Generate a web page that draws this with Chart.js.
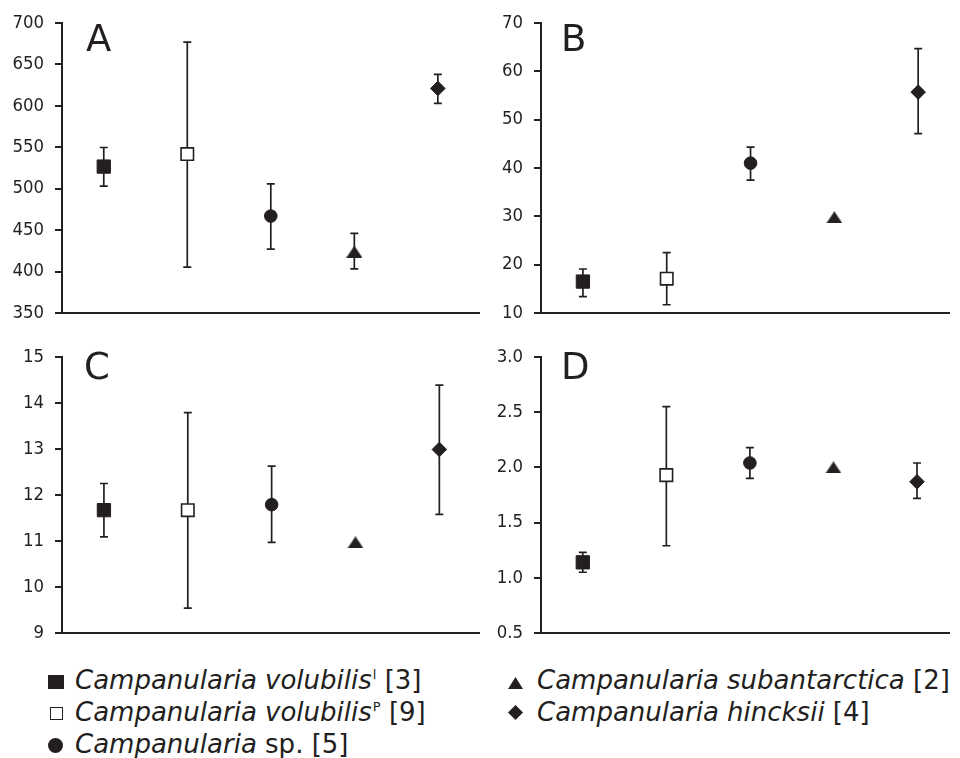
<!DOCTYPE html>
<html><head><meta charset="utf-8">
<script src="https://cdn.jsdelivr.net/npm/chart.js@4"></script>
<style>
html,body{margin:0;padding:0;background:#fff}
body{width:960px;height:758px;overflow:hidden;position:relative;font-family:"DejaVu Sans";color:#231f20}
.cv{position:absolute}
.lbl{position:absolute;font-size:37px;line-height:1}
.leg{position:absolute;font-size:26px;line-height:1;white-space:nowrap}
.leg i{font-style:oblique}
.leg sup{font-size:13px;line-height:1;vertical-align:top;position:relative;top:1px;margin-left:1px}
.mk{position:absolute;box-sizing:border-box}
</style>
</head><body>
<canvas id="cA" class="cv" style="left:0;top:0" width="490" height="335"></canvas>
<canvas id="cB" class="cv" style="left:490px;top:0" width="470" height="335"></canvas>
<canvas id="cC" class="cv" style="left:0;top:335px" width="490" height="320"></canvas>
<canvas id="cD" class="cv" style="left:490px;top:335px" width="470" height="320"></canvas>
<div id="labels"></div>
<div id="legend"></div>
<script>
// ---------- data ----------
const species = ['Campanularia volubilis', 'Campanularia volubilis', 'Campanularia', 'Campanularia subantarctica', 'Campanularia hincksii'];
const speciesSup = ['l', 'P', '', '', ''];
const speciesSuffix = ['', '', ' sp.', '', ''];
const sampleSizes = [3, 9, 5, 2, 4];
const xPos = [1, 2, 3, 4, 5];
const panelLetters = ['A', 'B', 'C', 'D'];

const meanA = [526.7, 541.8, 467, 424, 621];
const lowA  = [503, 405.3, 427, 403.3, 603];
const highA = [549.7, 677, 505.8, 446, 638];

const meanB = [16.5, 17.1, 41, 29.8, 55.7];
const lowB  = [13.4, 11.7, 37.5, null, 47.1];
const highB = [19.1, 22.5, 44.3, null, 64.7];

const meanC = [11.67, 11.67, 11.79, 10.97, 12.99];
const lowC  = [11.09, 9.54, 10.97, null, 11.58];
const highC = [12.25, 13.79, 12.63, null, 14.39];

const meanD = [1.14, 1.93, 2.04, 2.0, 1.87];
const lowD  = [1.05, 1.29, 1.90, null, 1.72];
const highD = [1.23, 2.55, 2.18, null, 2.04];

const yTicksA = [350, 400, 450, 500, 550, 600, 650, 700];
const yTicksB = [10, 20, 30, 40, 50, 60, 70];
const yTicksC = [9, 10, 11, 12, 13, 14, 15];
const yTicksD = ['0.5', '1.0', '1.5', '2.0', '2.5', '3.0'];

// ---------- styling ----------
const dark = '#231f20';
function hasFont(f) {
  const c = document.createElement('canvas').getContext('2d');
  c.font = '40px monospace';
  const a = c.measureText('abcdefWM700').width;
  c.font = '40px "' + f + '", monospace';
  return Math.abs(c.measureText('abcdefWM700').width - a) > 0.5;
}
const condensed = hasFont('DejaVu Sans Condensed');
const tickFont = condensed ? {family: '"DejaVu Sans Condensed"', size: 18.4} : {family: '"DejaVu Sans"', size: 17.5};

const tri = document.createElement('canvas');
tri.width = 16; tri.height = 12;
(function(){const c = tri.getContext('2d'); c.fillStyle = dark; c.beginPath(); c.moveTo(0,12); c.lineTo(8,0); c.lineTo(16,12); c.closePath(); c.fill();})();
const pStyles = ['rect', 'rect', 'circle', tri, 'rectRot'];
const pRadius = [9.4, 8.8, 6.3, 8, 7.3];
const pFill = [dark, '#ffffff', dark, dark, dark];
const pBorderW = [1, 1.6, 1, 0, 1];

const errorBarPlugin = {
  id: 'errorBars',
  beforeDatasetsDraw(chart, args, opts) {
    const {ctx, scales: {x, y}} = chart;
    ctx.save();
    ctx.strokeStyle = dark;
    ctx.lineWidth = 1.7;
    chart.data.datasets.forEach((ds, i) => {
      const lo = opts.low[i], hi = opts.high[i];
      if (lo == null || hi == null) return;
      const px = x.getPixelForValue(ds.data[0].x);
      const pl = y.getPixelForValue(lo), ph = y.getPixelForValue(hi);
      ctx.beginPath();
      ctx.moveTo(px, pl); ctx.lineTo(px, ph);
      ctx.moveTo(px - 4, pl); ctx.lineTo(px + 4, pl);
      ctx.moveTo(px - 4, ph); ctx.lineTo(px + 4, ph);
      ctx.stroke();
    });
    ctx.restore();
  }
};

function makePanel(id, means, lows, highs, ticks, xMax, yWidth, padding) {
  const nums = ticks.map(Number);
  const datasets = means.map((m, i) => ({
    label: species[i],
    data: [{x: xPos[i], y: m}],
    pointStyle: pStyles[i],
    pointRadius: pRadius[i],
    pointHoverRadius: pRadius[i],
    pointBackgroundColor: pFill[i],
    pointBorderColor: dark,
    pointBorderWidth: pBorderW[i],
    showLine: false
  }));
  new Chart(document.getElementById(id), {
    type: 'scatter',
    data: {datasets},
    plugins: [errorBarPlugin],
    options: {
      responsive: false,
      animation: false,
      events: [],
      layout: {padding},
      plugins: {legend: {display: false}, tooltip: {enabled: false}, errorBars: {low: lows, high: highs}},
      scales: {
        x: {
          type: 'linear', min: 0.5, max: xMax,
          ticks: {display: false},
          grid: {display: false, drawTicks: false},
          border: {display: true, color: dark, width: 2}
        },
        y: {
          type: 'linear', min: nums[0], max: nums[nums.length - 1],
          afterBuildTicks(s) { s.ticks = ticks.map(t => ({value: Number(t), label: String(t)})); },
          afterFit(s) { s.width = yWidth; },
          ticks: {color: dark, font: tickFont, padding: 11,
                  callback: (v, i) => String(ticks[i])},
          grid: {display: true, drawOnChartArea: false, drawTicks: true, tickLength: 7, color: dark, lineWidth: 2},
          border: {display: true, color: dark, width: 2}
        }
      }
    }
  });
}

makePanel('cA', meanA, lowA, highA, yTicksA, 5.5, 62, {top: 23, right: 2, bottom: 17, left: 0});
makePanel('cB', meanB, lowB, highB, yTicksB, 5.375, 51, {top: 23, right: 0, bottom: 16, left: 0});
makePanel('cC', meanC, lowC, highC, yTicksC, 5.48, 62, {top: 15, right: 3, bottom: 11, left: 0});
makePanel('cD', meanD, lowD, highD, yTicksD, 5.39, 51, {top: 15, right: 0, bottom: 11, left: 0});

// panel letters
const letterPos = [[86, 20], [561, 20], [84, 348], [561, 348]];
const lab = document.getElementById('labels');
panelLetters.forEach((t, i) => {
  const d = document.createElement('div');
  d.className = 'lbl'; d.textContent = t;
  d.style.left = letterPos[i][0] + 'px'; d.style.top = letterPos[i][1] + 'px';
  lab.appendChild(d);
});

// legend
const legPos = [[75, 667], [75, 699], [75, 731], [537, 667], [537, 699]];
const mkStyles = [
  'left:48px;top:675px;width:16px;height:14px;background:' + dark,
  'left:50px;top:707px;width:13px;height:13px;border:1.5px solid ' + dark + ';background:#fff',
  'left:48px;top:738px;width:15px;height:15px;border-radius:50%;background:' + dark,
  'left:508px;top:677px;width:15px;height:12px;background:' + dark + ';clip-path:polygon(0 100%,50% 0,100% 100%)',
  'left:508px;top:705px;width:15px;height:15px;background:' + dark + ';clip-path:polygon(50% 0,100% 50%,50% 100%,0 50%)'
];
const leg = document.getElementById('legend');
species.forEach((s, i) => {
  const m = document.createElement('div');
  m.className = 'mk'; m.style.cssText = mkStyles[i];
  leg.appendChild(m);
  const d = document.createElement('div');
  d.className = 'leg';
  d.style.left = legPos[i][0] + 'px'; d.style.top = legPos[i][1] + 'px';
  const it = document.createElement('i'); it.textContent = s; d.appendChild(it);
  if (speciesSup[i]) { const sp = document.createElement('sup'); sp.textContent = speciesSup[i]; d.appendChild(sp); }
  d.appendChild(document.createTextNode(speciesSuffix[i] + ' [' + sampleSizes[i] + ']'));
  leg.appendChild(d);
});
</script>
</body></html>
